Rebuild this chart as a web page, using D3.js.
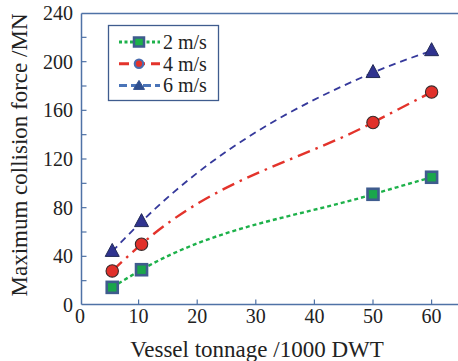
<!DOCTYPE html>
<html>
<head>
<meta charset="utf-8">
<script src="https://cdn.jsdelivr.net/npm/d3@7"></script>
<style>
  html, body { margin: 0; padding: 0; background: #fff; }
  svg text { font-family: "Liberation Serif", "DejaVu Serif", serif; }
</style>
</head>
<body>
<svg id="chart" width="458" height="361"></svg>
<script>
// Vessel tonnage (1000 DWT) at which collisions were simulated
const tonnage = [5.5, 10.5, 50, 60];
// Maximum collision force (MN) for each impact speed
const force2 = [14.5, 29, 91, 105];
const force4 = [28, 50, 150, 175];
const force6 = [44, 68.5, 191, 209];

const seriesNames = ["2 m/s", "4 m/s", "6 m/s"];
const xTicks = [0, 10, 20, 30, 40, 50, 60];
const yTicks = [0, 20, 40, 60, 80, 100, 120, 140, 160, 180, 200, 220, 240];
const yLabels = [0, 40, 80, 120, 160, 200, 240];

const svg = d3.select("#chart");
const axisColor = "#4f72a6";
const serif = "'Liberation Serif', 'DejaVu Serif', serif";

const x = d3.scaleLinear().domain([0, 65]).range([80, 80 + 65 * 5.86]);
const y = d3.scaleLinear().domain([0, 240]).range([305, 13]);
const frameLeft = 81.5, frameBottom = 304.5, frameTop = 13.5;

const series = [
  { name: seriesNames[0], values: force2, color: "#1db14a", dash: "4,3", width: 2.4, marker: "square" },
  { name: seriesNames[1], values: force4, color: "#e3332b", dash: "13,6,2.5,6", width: 2.4, marker: "circle" },
  { name: seriesNames[2], values: force6, color: "#35399b", dash: "7,5", width: 1.8, marker: "triangle" }
];

// Frame: top border and axes
svg.append("line").attr("x1", frameLeft).attr("x2", 458).attr("y1", frameTop).attr("y2", frameTop)
  .attr("stroke", axisColor).attr("stroke-width", 1.5);
svg.append("line").attr("x1", frameLeft).attr("x2", frameLeft).attr("y1", frameTop).attr("y2", frameBottom)
  .attr("stroke", axisColor).attr("stroke-width", 1.5);
svg.append("line").attr("x1", frameLeft).attr("x2", 458).attr("y1", frameBottom).attr("y2", frameBottom)
  .attr("stroke", axisColor).attr("stroke-width", 1.5);

// Inward ticks
svg.selectAll(".ytick").data(yTicks.filter(d => d > 0 && d < 240)).join("line")
  .attr("x1", frameLeft).attr("x2", frameLeft + 5)
  .attr("y1", d => y(d)).attr("y2", d => y(d))
  .attr("stroke", axisColor).attr("stroke-width", 1.2);
svg.selectAll(".xtick").data(xTicks.filter(d => d > 0)).join("line")
  .attr("x1", d => x(d)).attr("x2", d => x(d))
  .attr("y1", frameBottom).attr("y2", frameBottom - 5)
  .attr("stroke", axisColor).attr("stroke-width", 1.2);

// Tick labels
svg.selectAll(".ylab").data(yLabels).join("text")
  .attr("x", 73).attr("y", d => y(d)).attr("dy", "0.35em")
  .attr("text-anchor", "end").attr("font-size", 20).attr("fill", "#222")
  .attr("font-family", serif)
  .text(d => d);
svg.selectAll(".xlab").data(xTicks).join("text")
  .attr("x", d => x(d)).attr("y", 323)
  .attr("text-anchor", "middle").attr("font-size", 20).attr("fill", "#222")
  .attr("font-family", serif)
  .text(d => d);

// Axis titles
svg.append("text").attr("x", 257).attr("y", 357).attr("text-anchor", "middle")
  .attr("font-size", 23).attr("fill", "#222").attr("font-family", serif)
  .text("Vessel tonnage /1000 DWT");
svg.append("text").attr("transform", "translate(27,155) rotate(-90)")
  .attr("text-anchor", "middle").attr("font-size", 23).attr("fill", "#222")
  .attr("font-family", serif)
  .text("Maximum collision force /MN");

// Curves
const line = d3.line().x(d => x(d[0])).y(d => y(d[1])).curve(d3.curveMonotoneX);
series.forEach(s => {
  const pts = tonnage.map((t, i) => [t, s.values[i]]);
  svg.append("path").datum(pts).attr("d", line)
    .attr("fill", "none").attr("stroke", s.color)
    .attr("stroke-width", s.width).attr("stroke-dasharray", s.dash);
});

function drawMarker(g, type, cx, cy) {
  if (type === "square") {
    g.append("rect").attr("x", cx - 5.5).attr("y", cy - 5.5)
      .attr("width", 11).attr("height", 11)
      .attr("fill", "#1aa64b").attr("stroke", "#3f5c8e").attr("stroke-width", 2.6);
  } else if (type === "circle") {
    g.append("circle").attr("cx", cx).attr("cy", cy).attr("r", 6.2)
      .attr("fill", "#e1302a").attr("stroke", "#3a2a2a").attr("stroke-width", 1.1);
  } else {
    const h = 13, w = 14;
    g.append("path")
      .attr("d", `M${cx},${cy - h * 0.62}L${cx + w / 2},${cy + h * 0.38}L${cx - w / 2},${cy + h * 0.38}Z`)
      .attr("fill", "#2f338f").attr("stroke", "#222a55").attr("stroke-width", 1);
  }
}

series.forEach(s => {
  const g = svg.append("g");
  tonnage.forEach((t, i) => drawMarker(g, s.marker, x(t), y(s.values[i])));
});

// Legend
const lg = svg.append("g");
lg.append("rect").attr("x", 108.5).attr("y", 25.5).attr("width", 110).attr("height", 75)
  .attr("fill", "#fff").attr("stroke", "#3f5c8e").attr("stroke-width", 1.3);
const legendColors = ["#1db14a", "#e3332b", "#4a74b8"];
const legendDash = ["3,2.5", "10,6", "8,4"];
series.forEach((s, i) => {
  const cy = 42 + i * 21.7;
  lg.append("line").attr("x1", 119).attr("x2", 160).attr("y1", cy).attr("y2", cy)
    .attr("stroke", legendColors[i]).attr("stroke-width", 3).attr("stroke-dasharray", legendDash[i]);
  if (s.marker === "square") {
    lg.append("rect").attr("x", 134).attr("y", cy - 4.5).attr("width", 10).attr("height", 9)
      .attr("fill", "#1db14a").attr("stroke", "#3f5c8e").attr("stroke-width", 2.5);
  } else if (s.marker === "circle") {
    lg.append("circle").attr("cx", 139).attr("cy", cy).attr("r", 4.2)
      .attr("fill", "#e3332b").attr("stroke", "#4a6cae").attr("stroke-width", 2.2);
  } else {
    lg.append("path").attr("d", `M139,${cy - 5}L144.5,${cy + 4}L133.5,${cy + 4}Z`)
      .attr("fill", "#2f4f8f").attr("stroke", "#2f4f8f").attr("stroke-width", 1);
  }
  lg.append("text").attr("x", 163).attr("y", cy).attr("dy", "0.35em")
    .attr("font-size", 20).attr("fill", "#222").attr("font-family", serif)
    .text(s.name);
});
</script>
</body>
</html>
